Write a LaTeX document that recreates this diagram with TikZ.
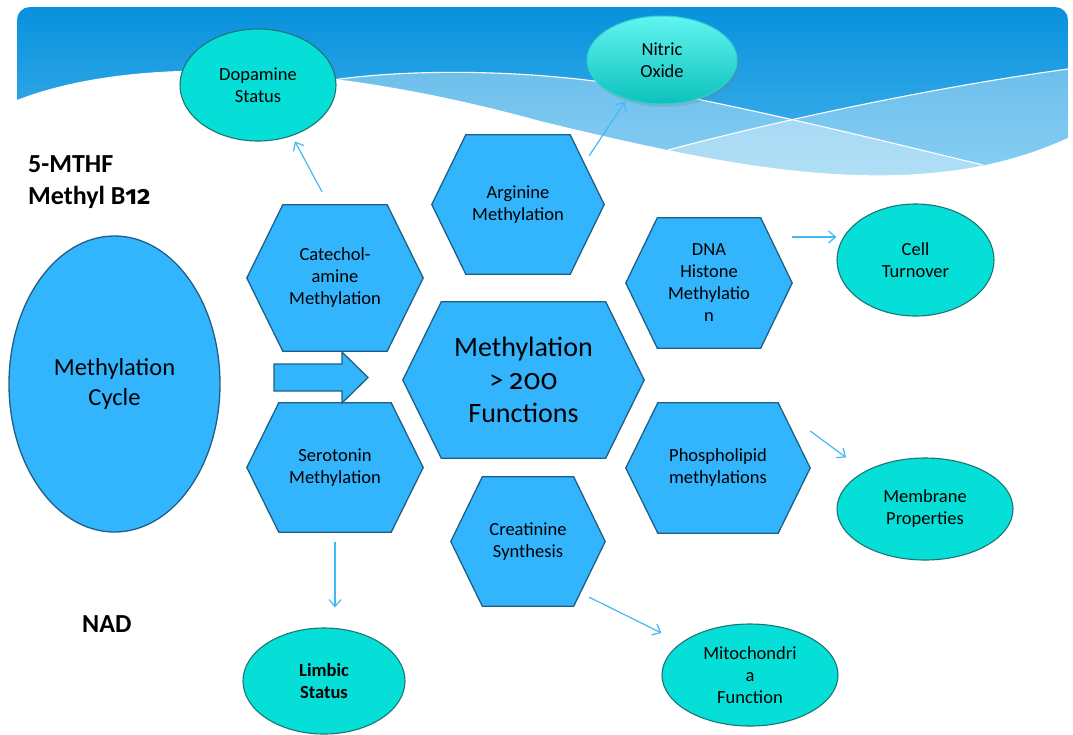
\documentclass[tikz,border=0pt]{standalone}
\usepackage{fontspec}
\setmainfont{Carlito}
\newfontfamily\numfont{Fira Sans}[Numbers=OldStyle]
\usetikzlibrary{shapes.geometric,arrows.meta,shadows,calc}
\definecolor{hexblue}{HTML}{33B5FD}
\definecolor{hexline}{HTML}{1D5F86}
\definecolor{teal1}{HTML}{05DFD7}
\definecolor{tealline}{HTML}{1B7674}
\definecolor{arrowblue}{HTML}{44B8F5}
\definecolor{bannertop}{HTML}{0891DC}
\definecolor{bannerbot}{HTML}{4AB6EE}
\definecolor{nittop}{HTML}{62F4F0}
\definecolor{nitbot}{HTML}{0CC2BC}
\definecolor{nitline}{HTML}{2CD3CE}
\pgfdeclarelayer{bgl}
\pgfdeclarelayer{hexl}
\pgfsetlayers{bgl,hexl,main}
\tikzset{
  hexnode/.style={shape=rectangle, inner sep=0pt, align=center, font=\fontsize{18.5}{22}\selectfont, text=black},
  hexshape/.style={fill=hexblue, draw=hexline, line width=1.3pt, line join=miter},
  tealell/.style={ellipse, inner sep=0pt, fill=teal1, draw=tealline, line width=1.1pt, align=center, font=\fontsize{18.5}{22}\selectfont, text=black},
  conn/.style={draw=arrowblue, line width=1.2pt, -{Straight Barb[length=7pt,width=12pt]}},
  bigtext/.style={font=\fontsize{26}{32}\selectfont\bfseries, inner sep=0pt, align=left, text=black},
  blockarrow/.style={fill=hexblue, draw=hexline, line width=1.3pt, line join=miter},
  whiteline/.style={draw=white, line width=1.1pt}
}
\newcommand\hexdraw[2]{\filldraw[hexshape] (#1.west) -- ([xshift=#2pt]#1.north west) -- ([xshift=-#2pt]#1.north east) -- (#1.east) -- ([xshift=-#2pt]#1.south east) -- ([xshift=#2pt]#1.south west) -- cycle;}
\begin{document}
\begin{tikzpicture}[x=1pt,y=-1pt]
\useasboundingbox (0,0) rectangle (1073,734);
% ---------- banner ----------
\begin{pgfonlayer}{bgl}
\fill[white] (0,0) rectangle (1073,734);
\begin{scope}
  \clip[rounded corners=13pt] (17,7) rectangle (1068,230);
  \shade[top color=bannertop, bottom color=bannerbot] (17,7) rectangle (1068,185);
  % band A (below white line 1)
  \fill[white, opacity=0.35] (250,74) -- (336,79.5) .. controls (420,68) and (540,70) .. (640,88) .. controls (760,110) and (900,145) .. (983,165) -- (983,220) -- (250,220) -- cycle;
  % band B (below white line 2)
  \fill[white, opacity=0.35] (668,150) .. controls (800,115) and (950,85) .. (1068,69) -- (1068,220) -- (668,220) -- cycle;
  % white page area
  \fill[white] (0,100) -- (17,100) .. controls (120,60) and (300,55) .. (540,121) .. controls (700,160) and (800,178) .. (900,175) .. controls (980,172) and (1030,155) .. (1068,138) -- (1080,138) -- (1080,240) -- (0,240) -- cycle;
  % white lines
  \draw[whiteline] (336,79.5) .. controls (420,68) and (540,70) .. (640,88) .. controls (760,110) and (900,145) .. (983,165);
  \draw[whiteline] (668,150) .. controls (800,115) and (950,85) .. (1068,69);
\end{scope}
\end{pgfonlayer}
% ---------- left texts ----------
\node[bigtext, anchor=west] (mthf) at (28,182) {5-MTHF\\Methyl B{\numfont 12}};
\node[bigtext, anchor=base west] (nad) at (82,632) {NAD};
% ---------- methylation cycle ----------
\node[ellipse, inner sep=0pt, minimum width=211pt, minimum height=296pt, fill=hexblue, draw=hexline, line width=1.3pt, align=center, font=\fontsize{24.5}{30}\selectfont, text=black] (cyc) at (114.5,384) {Methylation\\Cycle};
% ---------- hexagon nodes ----------
\node[hexnode, minimum width=176pt, minimum height=146pt] (cat) at (335,278) {Catechol-\\amine\\Methylation};
\node[hexnode, minimum width=176pt, minimum height=129pt] (ser) at (335,467.5) {Serotonin\\Methylation};
\node[hexnode, minimum width=241pt, minimum height=156pt, font=\fontsize{28}{33}\selectfont] (cen) at (523.5,380) {Methylation\\> {\numfont 200}\\Functions};
\node[hexnode, minimum width=172pt, minimum height=139pt] (arg) at (518,204.5) {Arginine\\Methylation};
\node[hexnode, minimum width=166pt, minimum height=130pt] (dna) at (709,283) {DNA\\Histone\\Methylatio\\n};
\node[hexnode, minimum width=184pt, minimum height=130pt] (pho) at (718,468) {Phospholipid\\methylations};
\node[hexnode, minimum width=154pt, minimum height=129pt] (cre) at (528,541.5) {Creatinine\\Synthesis};
\begin{pgfonlayer}{hexl}
  \hexdraw{cat}{36}
  \hexdraw{ser}{32}
  \hexdraw{cen}{38.5}
  \hexdraw{arg}{34}
  \hexdraw{dna}{31.5}
  \hexdraw{pho}{32}
  \hexdraw{cre}{31.5}
  \filldraw[blockarrow] (274,364) -- (342,364) -- (342,352) -- (368,377.5) -- (342,403) -- (342,391) -- (274,391) -- cycle;
\end{pgfonlayer}
% ---------- teal outcome ellipses ----------
\node[tealell, minimum width=156pt, minimum height=112pt] (dop) at (258,85) {Dopamine\\Status};
\node[ellipse, inner sep=0pt, minimum width=150pt, minimum height=88pt, top color=nittop, bottom color=nitbot, draw=nitline, line width=1pt, align=center, font=\fontsize{18.5}{22}\selectfont, text=black, drop shadow={opacity=0.25, shadow xshift=2pt, shadow yshift=-3pt}] (nit) at (662,60) {Nitric\\Oxide};
\node[tealell, minimum width=157pt, minimum height=112pt] (cell) at (915.5,260) {Cell\\Turnover};
\node[tealell, minimum width=176pt, minimum height=102pt] (mem) at (925,509) {Membrane\\Properties};
\node[tealell, minimum width=162pt, minimum height=106pt, font=\fontsize{18.5}{22}\selectfont\bfseries] (lim) at (324,681) {Limbic\\Status};
\node[tealell, minimum width=176pt, minimum height=102pt] (mit) at (750,675) {Mitochondri\\a\\Function};
% ---------- connectors ----------
\draw[conn] ([xshift=-13pt,yshift=13pt]cat.north) -- ([xshift=37pt]dop.south);
\draw[conn] ([xshift=-15pt,yshift=-21pt]arg.north east) -- ([xshift=-37pt,yshift=3pt]nit.south);
\draw[conn] ([yshift=46pt]dna.east) -- ([yshift=23pt]cell.west);
\draw[conn] ([yshift=37pt]pho.east) -- ([xshift=-79pt]mem.north);
\draw[conn] ([xshift=-16pt,yshift=9pt]cre.south east) -- ([yshift=42pt]mit.west);
\draw[conn] ([yshift=-10pt]ser.south) -- ([xshift=11pt,yshift=20pt]lim.north);
\end{tikzpicture}
\end{document}
